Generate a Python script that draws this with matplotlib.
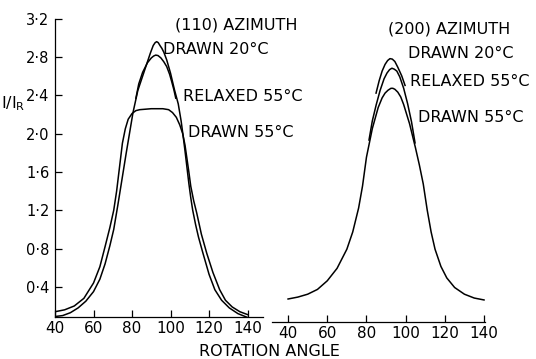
import matplotlib
matplotlib.use('Agg')
import matplotlib.pyplot as plt

# (110) azimuth, left panel
ang_110_d55 = [40, 45, 50, 55, 60, 63.3, 66, 68.5, 70.5, 72, 73.5, 75, 76.5, 78, 80, 82, 84, 90, 96,
               99, 101, 103, 104.8, 106.3, 107.5, 108.5, 109.5, 110.5, 112, 113.6, 116, 118.8, 122,
               125.5, 128.5, 132, 136, 140]
val_110_d55 = [0.14, 0.16, 0.20, 0.28, 0.44, 0.61, 0.82, 1.02, 1.20, 1.40, 1.65, 1.90, 2.05, 2.15,
               2.21, 2.24, 2.25, 2.26, 2.26, 2.25, 2.22, 2.17, 2.09, 2.00, 1.88, 1.74, 1.60, 1.45,
               1.30, 1.17, 0.95, 0.75, 0.55, 0.37, 0.26, 0.19, 0.14, 0.11]

ang_110_d20 = [40, 44, 48, 52, 56, 60, 63.3, 66, 68.5, 70.5, 72.6, 74.6, 77, 79, 80.5, 83, 86, 88,
               89.5, 91, 92, 92.8, 93.6, 94.5, 95.5, 96.5, 98, 100, 102, 104, 105.5, 106.5, 107.5,
               108.5, 109.5, 110.5, 111.5, 113, 114.5, 116.7, 120, 123, 126.5, 130.5, 135, 140]
val_110_d20 = [0.09, 0.10, 0.13, 0.18, 0.25, 0.35, 0.48, 0.64, 0.83, 1.00, 1.25, 1.50, 1.80, 2.04,
               2.22, 2.45, 2.63, 2.75, 2.84, 2.92, 2.95, 2.96, 2.95, 2.92, 2.89, 2.85, 2.77, 2.63,
               2.46, 2.31, 2.13, 1.98, 1.82, 1.65, 1.48, 1.33, 1.20, 1.05, 0.92, 0.76, 0.53, 0.37,
               0.26, 0.18, 0.12, 0.08]

ang_110_r55 = [82, 83.5, 85.5, 88, 90, 91.2, 92.3, 93.5, 95, 96.5, 98, 99.5, 100.5, 101.7, 102.7]
val_110_r55 = [2.37, 2.52, 2.64, 2.74, 2.79, 2.81, 2.82, 2.815, 2.79, 2.75, 2.70, 2.62, 2.55, 2.46,
               2.37]

# (200) azimuth, right panel
ang_200_d55 = [40, 45, 50, 55, 60, 65, 70, 73, 76, 78, 80, 83, 86, 88, 89.5, 91, 92.5, 93.5, 94.5,
               96, 97.5, 99, 102, 105, 107, 109, 111, 113, 115, 118, 121, 125, 130, 135, 140]
val_200_d55 = [0.32, 0.34, 0.37, 0.42, 0.51, 0.64, 0.84, 1.02, 1.27, 1.50, 1.80, 2.10, 2.32, 2.42,
               2.47, 2.50, 2.52, 2.52, 2.51, 2.48, 2.43, 2.35, 2.15, 1.90, 1.72, 1.52, 1.25, 1.02,
               0.84, 0.66, 0.54, 0.44, 0.37, 0.33, 0.31]

ang_200_r55 = [81.3, 83, 85, 87, 89, 90.5, 91.8, 93, 94.2, 95.5, 97, 99, 101, 103, 104.8]
val_200_r55 = [1.98, 2.18, 2.35, 2.50, 2.62, 2.68, 2.715, 2.73, 2.72, 2.70, 2.64, 2.52, 2.36, 2.17,
               1.95]

ang_200_d20 = [84.9, 86.5, 88, 89.5, 90.8, 92, 93.2, 94.5, 96, 98, 99.7]
val_200_d20 = [2.47, 2.60, 2.70, 2.77, 2.81, 2.83, 2.825, 2.80, 2.74, 2.65, 2.55]

x_ticks = [40, 60, 80, 100, 120, 140]
y_ticks = [0.4, 0.8, 1.2, 1.6, 2.0, 2.4, 2.8, 3.2]
y_labels = ['0·4', '0·8', '1·2', '1·6', '2·0', '2·4', '2·8', '3·2']

W, H = 536, 359
plt.rcParams['font.family'] = ['DejaVu Sans']

fig = plt.figure(figsize=(W / 100, H / 100), dpi=100)

def px_axes(x0, x1, y_bottom, y_top):
    # axes from pixel box (y measured from top of image)
    return fig.add_axes([x0 / W, 1 - y_bottom / H, (x1 - x0) / W, (y_bottom - y_top) / H])

ax1 = px_axes(55, 263, 317, 18.7)
ax2 = px_axes(272, 485, 321.5, 23.2)

lw = 1.1
ax1.plot(ang_110_d55, val_110_d55, color='black', lw=lw)
ax1.plot(ang_110_d20, val_110_d20, color='black', lw=lw)
ax1.plot(ang_110_r55, val_110_r55, color='black', lw=lw)
ax2.plot(ang_200_d55, val_200_d55, color='black', lw=lw)
ax2.plot(ang_200_r55, val_200_r55, color='black', lw=lw)
ax2.plot(ang_200_d20, val_200_d20, color='black', lw=lw)

for ax in (ax1, ax2):
    ax.set_ylim(0.085, 3.2)
    ax.spines['top'].set_visible(False)
    ax.spines['right'].set_visible(False)
    ax.spines['bottom'].set_linewidth(0.9)
    ax.set_xticks(x_ticks)
    ax.set_xticklabels([str(t) for t in x_ticks], fontsize=11)
    ax.tick_params(axis='x', direction='in', length=5, width=0.9, pad=3)
    ax.patch.set_visible(False)

ax1.set_xlim(40, 148)
ax2.set_xlim(31.8, 140.5)

ax1.spines['left'].set_linewidth(0.9)
ax1.set_yticks(y_ticks)
ax1.set_yticklabels(y_labels, fontsize=10.5)
ax1.tick_params(axis='y', direction='in', length=5, width=0.9, pad=4)

ax2.spines['left'].set_visible(False)
ax2.set_yticks([])

# labels placed by pixel position
def label(x, y, s, **kw):
    fig.text(x / W, 1 - y / H, s, va='center', **kw)

fs = 11.5
label(175, 25, '(110) AZIMUTH', fontsize=fs)
label(163, 50, 'DRAWN 20°C', fontsize=fs)
label(183, 97, 'RELAXED 55°C', fontsize=fs)
label(188, 133, 'DRAWN 55°C', fontsize=fs)
label(388, 29, '(200) AZIMUTH', fontsize=fs)
label(408, 53, 'DRAWN 20°C', fontsize=fs)
label(410, 81, 'RELAXED 55°C', fontsize=fs)
label(418, 117, 'DRAWN 55°C', fontsize=fs)
label(269, 351, 'ROTATION ANGLE', fontsize=11.5, ha='center')
label(1, 104, r'I/I$_\mathrm{R}$', fontsize=11.5)

fig.savefig('out.png', dpi=100)
